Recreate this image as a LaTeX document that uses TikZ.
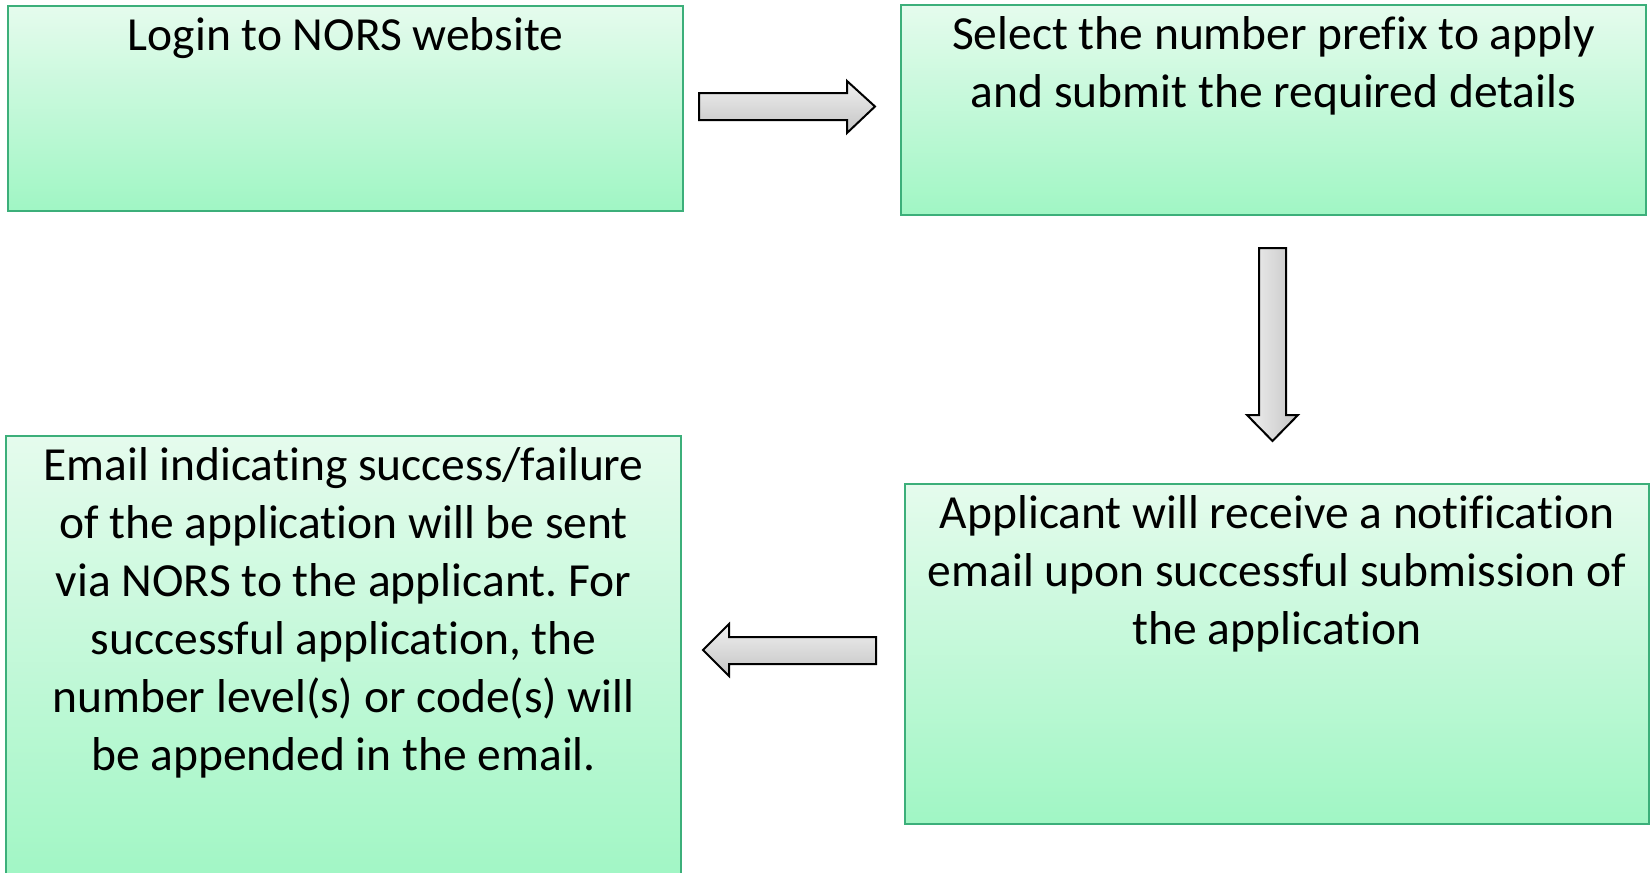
\documentclass[tikz,border=0pt]{standalone}
\usepackage{fontspec}
\setmainfont[Ligatures={NoCommon}]{Carlito}
\usetikzlibrary{calc}
\pgfdeclarelayer{background}
\pgfsetlayers{background,main}
\frenchspacing
\definecolor{boxtop}{RGB}{229,251,237}
\definecolor{boxbot}{RGB}{160,246,196}
\definecolor{boxline}{RGB}{60,175,122}
\definecolor{arrlight}{RGB}{240,240,240}
\definecolor{arrdark}{RGB}{196,196,196}
\tikzset{
  stepbox/.style={draw=boxline, line width=2pt, top color=boxtop, bottom color=boxbot,
    inner sep=0pt, anchor=north west, font=\fontsize{47.5pt}{58pt}\selectfont},
  harrow/.style={draw=black, line width=2pt, line join=miter, top color=arrlight, bottom color=arrdark},
  varrow/.style={draw=black, line width=2pt, line join=miter, left color=arrlight, right color=arrdark},
  arrshadow/.style={fill=black, opacity=0.13, xshift=2pt, yshift=-3pt}
}
\newcommand{\boxcontent}[3]{\parbox[c][#2][t]{#1}{\centering\rule{0pt}{44pt}#3}}
\newcommand{\rightarrowpath}{(699,93) -- (847,93) -- (847,81) -- (875,106.5) -- (847,133) -- (847,120) -- (699,120) -- cycle}
\newcommand{\downarrowpath}{(1259,248) -- (1286,248) -- (1286,415) -- (1298,415) -- (1272.5,441) -- (1247,415) -- (1259,415) -- cycle}
\newcommand{\leftarrowpath}{(876,637) -- (729,637) -- (729,624) -- (703,650) -- (729,676) -- (729,664) -- (876,664) -- cycle}
\begin{document}
\begin{tikzpicture}[x=1pt,y=-1pt]
\useasboundingbox (0,0) rectangle (1650,873);
\fill[white] (0,0) rectangle (1650,873);

\node[stepbox] (b1) at (7,5) {\boxcontent{675pt}{205pt}{Login to NORS website}};
\node[stepbox] (b2) at (900,4) {\boxcontent{745pt}{210pt}{Select the number prefix to apply\\and submit the required details}};
\node[stepbox] (b3) at (904,483) {\boxcontent{744pt}{340pt}{Applicant will receive a notification\\email upon successful submission of\\the application}};
\node[stepbox] (b4) at (5,435) {\boxcontent{675pt}{450pt}{Email indicating success/failure\\of the application will be sent\\via NORS to the applicant. For\\successful application, the\\number level(s) or code(s) will\\be appended in the email.}};

\draw[harrow] \rightarrowpath;
\draw[varrow] \downarrowpath;
\draw[harrow] \leftarrowpath;

\begin{pgfonlayer}{background}
\foreach \n in {b1,b2,b3,b4}{
  \foreach \k in {0,1,...,6}{
    \fill[black, opacity=0.045] ($(\n.south west)+(2-\k,4+\k)$) rectangle ($(\n.north east)+(2+\k,4-\k)$);
  }
}
\fill[arrshadow] \rightarrowpath;
\fill[arrshadow] \downarrowpath;
\fill[arrshadow] \leftarrowpath;
\end{pgfonlayer}
\end{tikzpicture}
\end{document}
